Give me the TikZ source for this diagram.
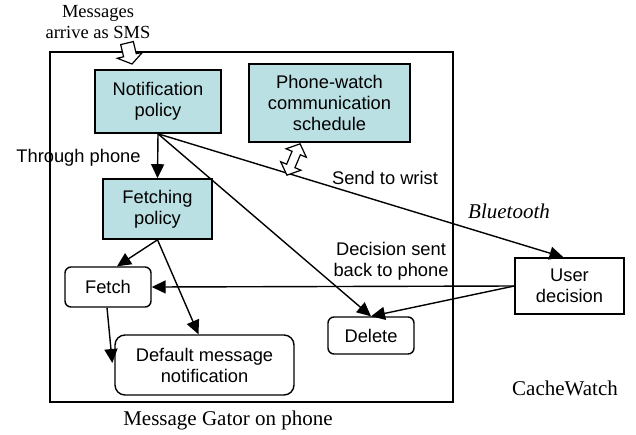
\documentclass[tikz,border=0pt]{standalone}
\usepackage{fontspec}
\setmainfont{Liberation Serif}
\newfontfamily\arialf{Liberation Sans}
\usetikzlibrary{arrows.meta,calc}
\definecolor{boxfill}{RGB}{186,224,227}
\tikzset{
  sansfont/.style={font=\arialf\fontsize{18.3}{21}\selectfont},
  policy/.style={draw, line width=1.6pt, fill=boxfill, inner sep=0pt, align=center, sansfont},
  action/.style={draw, line width=1.4pt, rounded corners=6pt, fill=white, inner sep=0pt, align=center, sansfont},
  plainbox/.style={draw, line width=1.4pt, fill=white, inner sep=0pt, align=center, sansfont},
  conn/.style={line width=1.4pt, -{Triangle[length=14pt,width=13pt]}},
  label/.style={inner sep=0pt, align=center, sansfont},
  serifl/.style={inner sep=0pt, align=center, font=\fontsize{21}{21}\selectfont},
  blockarrow/.style={draw, line width=1.2pt, fill=white, line join=miter}
}
\begin{document}
\begin{tikzpicture}[x=1pt,y=-1pt]
\useasboundingbox (0,0) rectangle (636,434);
% outer phone box
\draw[line width=1.6pt] (50,52) rectangle (453,402);

\node[policy, minimum width=126pt, minimum height=63pt] (notif) at (158,101.5) {Notification\\policy};
\node[policy, minimum width=161pt, minimum height=78pt] (sched) at (329.5,103) {Phone-watch\\communication\\schedule};
\node[policy, minimum width=109pt, minimum height=60pt] (fetchp) at (157.5,209) {Fetching\\policy};
\node[action, minimum width=86pt, minimum height=40pt] (fetch) at (108,287) {Fetch};
\node[action, rounded corners=10pt, minimum width=179pt, minimum height=60pt] (default) at (204.5,365) {Default message\\notification};
\node[action, minimum width=86pt, minimum height=37pt] (delete) at (371,335.5) {Delete};
\node[plainbox, minimum width=109pt, minimum height=56pt] (user) at (569.5,286) {User\\decision};

% labels
\node[serifl, font=\fontsize{18.5}{21}\selectfont] (sms) at (98,22.5) {Messages\\arrive as SMS};
\node[label] (through) at (78.5,158) {Through phone};
\node[label] (wrist) at (385,178) {Send to wrist};
\node[serifl, font=\itshape\fontsize{21}{21}\selectfont] (bt) at (509,211) {Bluetooth};
\node[label] (back) at (391,261) {Decision sent\\back to phone};
\node[serifl] (cw) at (565,388) {CacheWatch};
\node[serifl] (gator) at (228,420) {Message Gator on phone};

% connectors
\draw[conn] (notif.south) -- (fetchp.north);
\draw[conn] (notif.south) -- ($(user.north)+(-6,0)$);
\draw[conn] (notif.south) -- (delete.north);
\draw[conn] (fetchp.south) -- ($(fetch.north)+(9,0)$);
\draw[conn] (fetchp.south) -- ($(default.north)+(-6,0)$);
\draw[conn] ($(fetch.south)+(-1,0)$) -- ($(default.west)+(-2,-2)$);
\draw[conn] (user.west) -- (fetch.east);
\draw[conn] (user.west) -- (delete.north);

% block arrow: messages arriving
\coordinate (smsB) at (132,64);
\begin{scope}[shift={(smsB)}, rotate=103.4]
  \draw[blockarrow] (0,0) -- (9,-13) -- (9,-6.5) -- (21.5,-6.5) -- (21.5,6.5) -- (9,6.5) -- (9,13) -- cycle;
\end{scope}
% double block arrow: schedule
\coordinate (dA) at (287,175);
\coordinate (dB) at (300,144);
\begin{scope}[shift={($(dA)!0.5!(dB)$)}, rotate=67.2]
  \draw[blockarrow] (-17,0) -- (-7,-11) -- (-7,-4.5) -- (7,-4.5) -- (7,-11) -- (17,0) -- (7,11) -- (7,4.5) -- (-7,4.5) -- (-7,11) -- cycle;
\end{scope}
\end{tikzpicture}
\end{document}
